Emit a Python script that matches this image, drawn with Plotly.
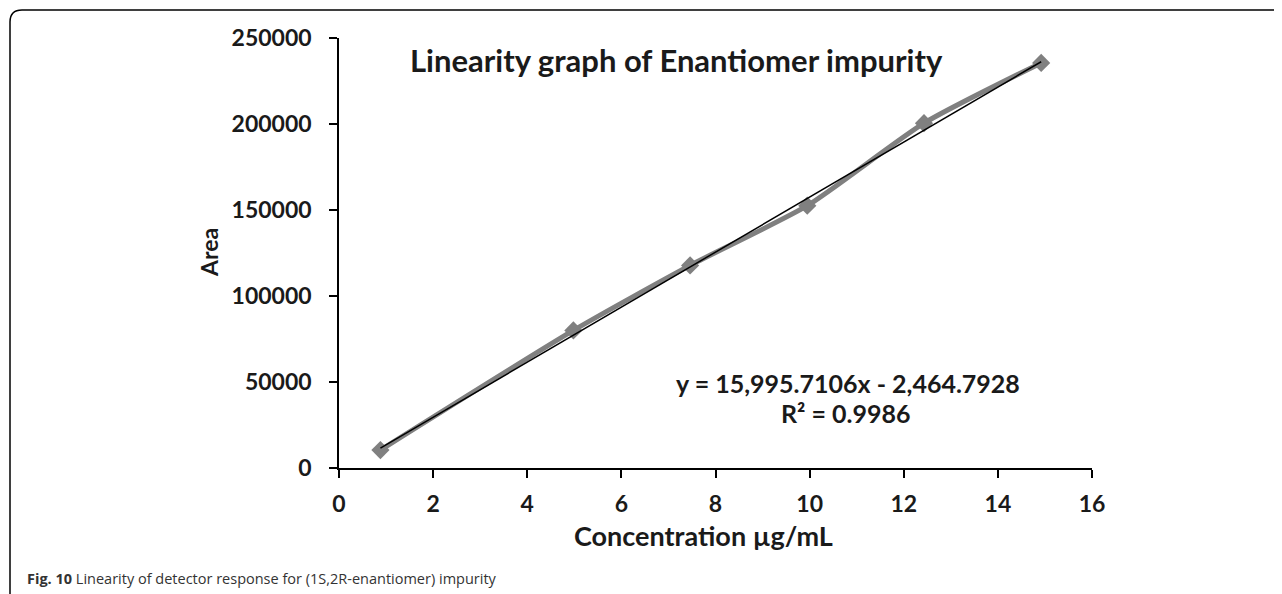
import plotly.graph_objects as go

# concentration (µg/mL) vs peak area
concentration = [0.88, 4.98, 7.46, 9.95, 12.43, 14.92]
area = [10400, 80000, 117800, 152500, 200500, 235500]

# Excel linear trendline shown on the chart
slope = 15995.7106
intercept = -2464.7928
equation_line = "y = 15,995.7106x - 2,464.7928"
r2_line = "R² = 0.9986"

x_ticks = [0, 2, 4, 6, 8, 10, 12, 14, 16]
y_ticks = [0, 50000, 100000, 150000, 200000, 250000]

# the page puts the figure 8px in from the top-left corner
OFF = 8
W, H = 1282 - OFF, 594 - OFF
PLOT_X0, PLOT_X1, PLOT_Y0, PLOT_Y1 = 339, 1092, 38, 468   # plot area in screen pixels
L, R = PLOT_X0 - OFF, W - (PLOT_X1 - OFF)
T, B = PLOT_Y0 - OFF, H - (PLOT_Y1 - OFF)
FONT = "Lato"
INK = "#1a1a1a"


def px(x, y):
    # screen pixel position -> paper coordinates
    return (x - PLOT_X0) / (PLOT_X1 - PLOT_X0), (PLOT_Y1 - y) / (PLOT_Y1 - PLOT_Y0)


def label(x, y, text, size, **kw):
    ax_, ay_ = px(x, y)
    fig.add_annotation(x=ax_, y=ay_, xref="paper", yref="paper", showarrow=False,
                       xanchor=kw.pop("xanchor", "center"), yanchor="middle", text=text,
                       font=dict(family=kw.pop("family", FONT), size=size,
                                 color=kw.pop("color", INK)), **kw)


fig = go.Figure()

fig.add_trace(go.Scatter(
    x=concentration, y=area, mode="lines+markers",
    line=dict(color="#808080", width=5, shape="spline", smoothing=0.6),
    marker=dict(symbol="diamond", size=14, color="#808080"),
    showlegend=False))

trend_x = [min(concentration), max(concentration)]
trend_y = [slope * v + intercept for v in trend_x]
fig.add_trace(go.Scatter(
    x=trend_x, y=trend_y, mode="lines",
    line=dict(color="black", width=1.5), showlegend=False))

axis_common = dict(showgrid=False, zeroline=False, showline=True, linecolor="black",
                   linewidth=1.5, ticks="outside", ticklen=8, tickwidth=1.5,
                   tickcolor="black",
                   tickfont=dict(family=FONT, size=23, color=INK, weight="bold"))

fig.update_xaxes(range=[0, 16], tickvals=x_ticks, ticklabelstandoff=7, **axis_common)
fig.update_yaxes(range=[0, 250000], tickvals=y_ticks, tickformat="d",
                 ticklabelstandoff=13, **axis_common)

label(676, 60, "<b>Linearity graph of Enantiomer impurity</b>", 31)
label(848, 383, "<b>" + equation_line + "</b>", 25)
label(846, 413, "<b>" + r2_line + "</b>", 25)
label(703, 535, "<b>Concentration µg/mL</b>", 27)
label(209, 253, "<b>Area</b>", 23, textangle=-90)
label(25, 578, "<b>Fig. 10</b> Linearity of detector response for (1S,2R-enantiomer) impurity",
      14.5, xanchor="left", family="Open Sans", color="#333333")

# rounded frame around the figure
x0, y_top = px(10, 10)
x1, y_bot = px(1300, 600)
rx = 12 / (PLOT_X1 - PLOT_X0)
ry = 12 / (PLOT_Y1 - PLOT_Y0)
fig.add_shape(type="path", xref="paper", yref="paper",
              path=(f"M {x0},{y_bot} L {x0},{y_top - ry} "
                    f"Q {x0},{y_top} {x0 + rx},{y_top} L {x1},{y_top}"),
              line=dict(color="black", width=1.5))

fig.update_layout(width=W, height=H, margin=dict(l=L, r=R, t=T, b=B),
                  plot_bgcolor="white", paper_bgcolor="white")

fig.write_html("out.html")
